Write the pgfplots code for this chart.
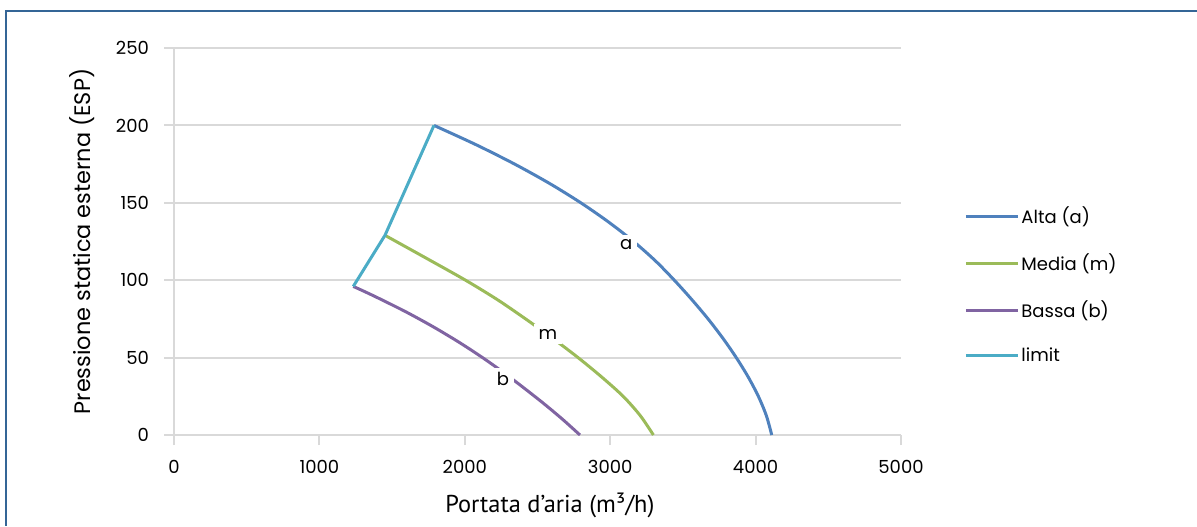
\documentclass[border=0pt]{standalone}
\usepackage{fontspec}
\setmainfont{Poppins}
\newfontfamily\ptsans{PT Sans}
\usepackage{pgfplots}
\pgfplotsset{compat=1.18}

\definecolor{alta}{RGB}{79,129,189}
\definecolor{media}{RGB}{155,187,89}
\definecolor{bassa}{RGB}{128,100,162}
\definecolor{limitc}{RGB}{75,172,198}
\definecolor{frame}{RGB}{52,101,150}
\definecolor{gridc}{RGB}{217,217,217}

\begin{document}
\begin{tikzpicture}
\begin{axis}[
    at={(87pt,45.5pt)}, anchor=south west,
    scale only axis,
    width=363.5pt, height=193.5pt,
    xmin=0, xmax=5000, ymin=0, ymax=250,
    xtick={0,1000,...,5000},
    ytick={0,50,...,250},
    axis x line=bottom, axis y line=left,
    axis line style={gridc, line width=1pt, -},
    ymajorgrids,
    major grid style={gridc, line width=1pt},
    tick align=outside,
    major tick length=5pt,
    tick style={gridc, line width=1pt},
    /pgf/number format/assume math mode=true,
    /pgf/number format/1000 sep={},
    ticklabel style={font=\fontsize{9}{11}\selectfont},
    xticklabel style={yshift=-4pt},
    yticklabel style={xshift=-4pt},
    xlabel={{\ptsans Portata d’aria (m³/h)}},
    xlabel style={at={(axis description cs:0.517,-0.181)}, anchor=center, font=\fontsize{12.2}{14}\selectfont},
    ylabel={Pressione statica esterna (ESP)},
    ylabel style={at={(axis description cs:-0.1265,0.5)}, anchor=center, font=\fontsize{11.2}{13}\selectfont},
    legend style={draw=none, fill=none, at={(axis description cs:1.0867,0.597)}, anchor=north west,
        inner sep=0pt, row sep=11.6pt, nodes={inner sep=1pt, font=\fontsize{9}{11}\selectfont}},
    legend cell align=left,
    legend image code/.code={\draw[#1,line width=1.5pt] (0pt,0pt) -- (26pt,0pt);},
]
\addplot[alta, line width=1.5pt, smooth] coordinates {
    (1788,200) (2078,187.5) (2343,175) (2583,162.5) (2798,150) (2990,137.5)
    (3161,125) (3311,112.5) (3441,100) (3561,87.5) (3673,75) (3775,62.5)
    (3867,50) (3949,37.5) (4019,25) (4074,12.5) (4111,0)
};
\addlegendentry{Alta (a)}
\addplot[media, line width=1.5pt, smooth] coordinates {
    (1451,129) (1528,125) (1768,112.5) (2005,100) (2223,87.5) (2418,75)
    (2604,62.5) (2779,50) (2941,37.5) (3089,25) (3207,12.5) (3297,0)
};
\addlegendentry{Media (m)}
\addplot[bassa, line width=1.5pt, smooth] coordinates {
    (1233,96) (1371,90) (1586,80) (1781,70) (1959,60) (2122,50)
    (2272,40) (2412,30) (2547,20) (2674,10) (2792,0)
};
\addlegendentry{Bassa (b)}
\addplot[limitc, line width=1.5pt] coordinates {
    (1233,96) (1451,129) (1788,200)
};
\addlegendentry{limit}

\node[fill=white, inner sep=2.5pt, font=\fontsize{9}{11}\selectfont] at (axis cs:3110,123) {a};
\node[fill=white, inner sep=2.5pt, font=\fontsize{9}{11}\selectfont] at (axis cs:2572,65) {m};
\node[fill=white, inner sep=2.5pt, font=\fontsize{9}{11}\selectfont] at (axis cs:2263,36) {b};
\end{axis}
\draw[frame, line width=1pt] (598.5pt,257.5pt) -- (3pt,257.5pt) -- (3pt,0pt);
\pgfresetboundingbox
\useasboundingbox (0,0) rectangle (598.5pt,263pt);
\end{tikzpicture}
\end{document}
